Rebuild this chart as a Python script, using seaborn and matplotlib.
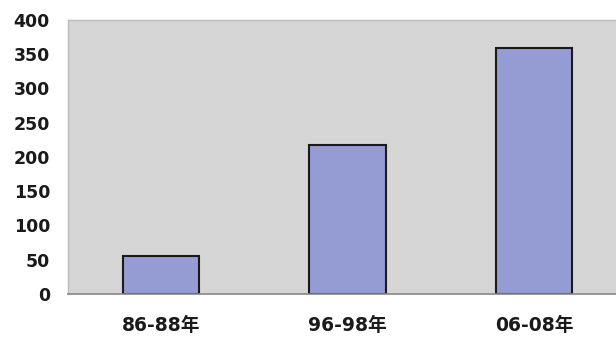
import matplotlib
matplotlib.use("Agg")
import matplotlib.pyplot as plt
import seaborn as sns
import pandas as pd

categories = ["86-88年", "96-98年", "06-08年"]
values = [55, 217, 359]
yticks = [0, 50, 100, 150, 200, 250, 300, 350, 400]

sns.set_theme(style="white")
plt.rcParams['font.family'] = ['DejaVu Sans', 'Noto Sans CJK JP']

df = pd.DataFrame({"period": categories, "value": values})

fig = plt.figure(figsize=(6.16, 3.40), dpi=100)
fig.patch.set_facecolor("white")
ax = fig.add_axes([68/616, 46/340, 1 - 68/616, (294-20)/340])
ax.set_facecolor("#d5d5d6")

sns.barplot(data=df, x="period", y="value", ax=ax, color="#959cd4",
            saturation=1, width=0.41, edgecolor="#1a1a1a", linewidth=1.5)

ax.set_xlim(-0.5, 2.44)
ax.set_ylim(0, 400)
ax.set_yticks(yticks)
ax.set_yticklabels([str(t) for t in yticks], fontsize=12.5, fontweight="bold",
                   color="#1a1a1a")
ax.set_xticks(range(len(categories)))
ax.set_xticklabels(categories, fontsize=13.5, fontweight="bold", color="#1a1a1a")
ax.tick_params(axis="y", length=0, pad=13)
ax.tick_params(axis="x", length=0, pad=16)
ax.set_xlabel("")
ax.set_ylabel("")
for side in ["left", "top"]:
    ax.spines[side].set_color("#bbbbbb")
    ax.spines[side].set_linewidth(1)
ax.spines["bottom"].set_color("#888888")
ax.spines["bottom"].set_linewidth(1.2)
ax.spines["right"].set_visible(False)

fig.savefig("out.png", dpi=100)
